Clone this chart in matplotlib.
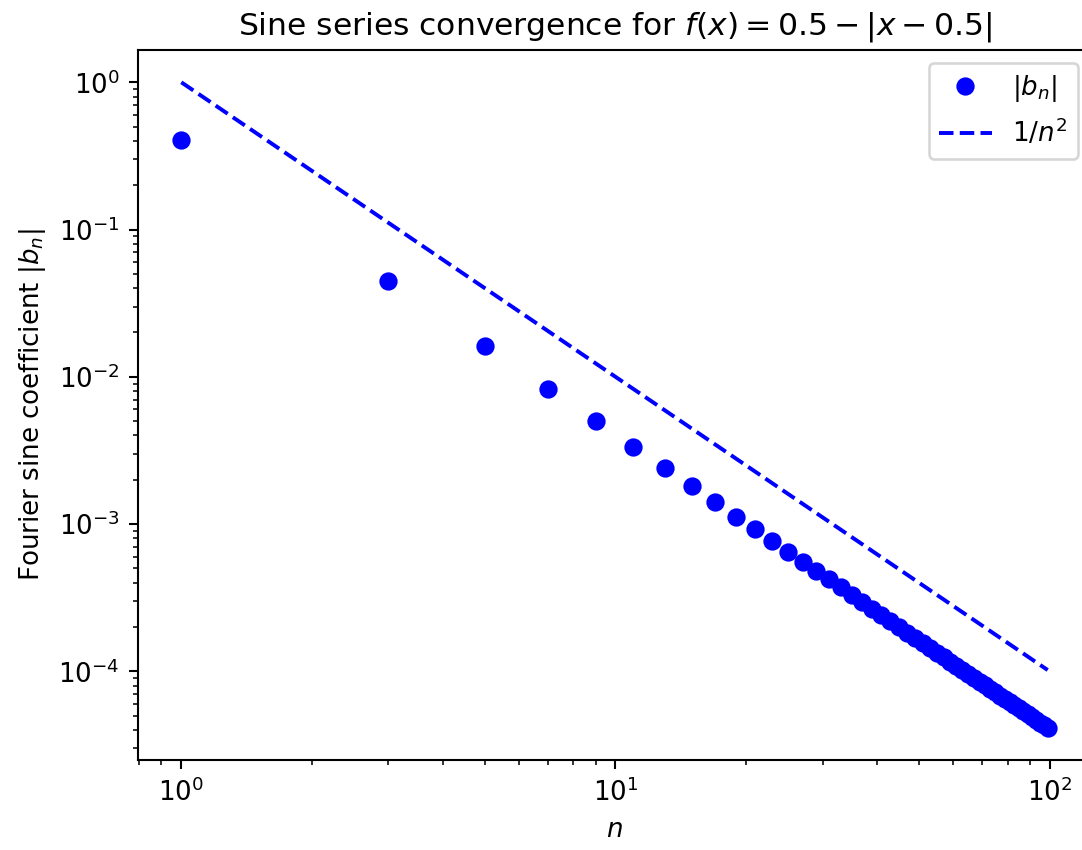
import matplotlib
matplotlib.use("Agg")
import matplotlib.pyplot as plt

# odd harmonics (even ones are zero)
n_odd = [1, 3, 5, 7, 9, 11, 13, 15, 17, 19, 21, 23, 25, 27, 29, 31, 33, 35, 37, 39,
         41, 43, 45, 47, 49, 51, 53, 55, 57, 59, 61, 63, 65, 67, 69, 71, 73, 75, 77, 79,
         81, 83, 85, 87, 89, 91, 93, 95, 97, 99]
b_abs = [0.4053, 0.04503, 0.01621, 0.008271, 0.005004, 0.003349, 0.002398, 0.001801,
         0.001402, 0.001123, 0.000919, 0.000766, 0.000648, 0.000556, 0.000482, 0.000422,
         0.000372, 0.000331, 0.000296, 0.000266, 0.000241, 0.000219, 0.000200, 0.000183,
         0.000169, 0.000156, 0.000144, 0.000134, 0.000125, 0.000116, 0.000109, 0.000102,
         0.0000959, 0.0000903, 0.0000851, 0.0000804, 0.0000761, 0.0000720, 0.0000684,
         0.0000649, 0.0000618, 0.0000588, 0.0000561, 0.0000535, 0.0000512, 0.0000489,
         0.0000469, 0.0000449, 0.0000431, 0.0000414]
n_ref = [1, 99]
ref_vals = [1.0, 0.000102]

dpi = 188
W, H = 1082, 850
fig = plt.figure(figsize=(W / dpi, H / dpi), dpi=dpi)
left, right, top, bottom = 138, 1091, 50, 760
ax = fig.add_axes([left / W, 1 - bottom / H, (right - left) / W, (bottom - top) / H])

ax.loglog(n_odd, b_abs, 'o', color='blue', label=r'$|b_n|$')
ax.loglog(n_ref, ref_vals, '--', color='blue', label=r'$1/n^2$')
ax.set_xlabel(r'$n$')
ax.set_ylabel(r'Fourier sine coefficient $|b_n|$')
ax.set_title(r'Sine series convergence for $f(x) = 0.5 - |x - 0.5|$')
ax.legend(loc='upper right')

fig.savefig('out.png', dpi=dpi)
